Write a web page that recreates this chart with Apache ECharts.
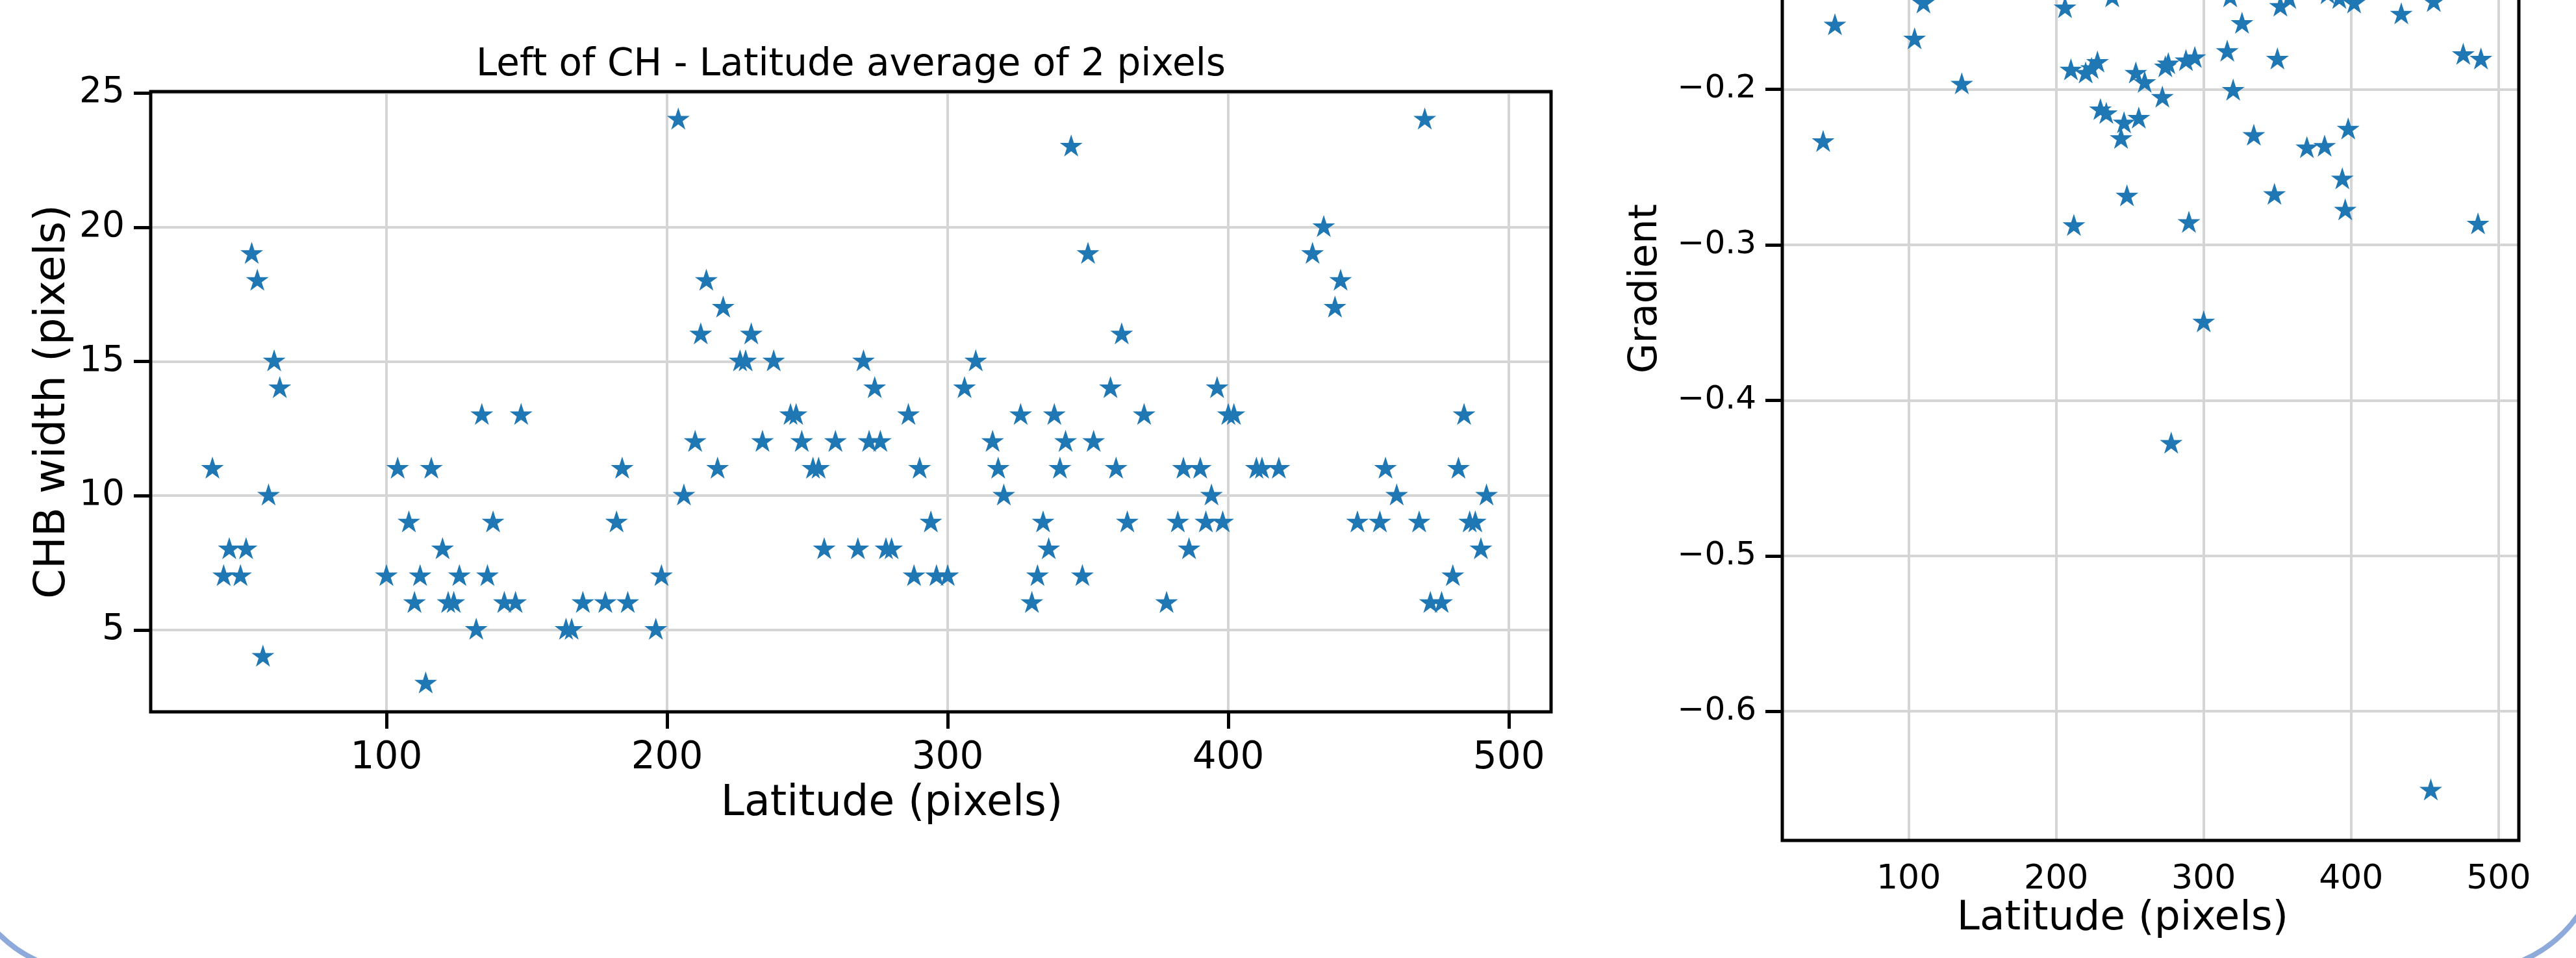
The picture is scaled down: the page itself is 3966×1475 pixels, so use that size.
<!DOCTYPE html>
<html>
<head>
<meta charset="utf-8">
<title>CHB width and gradient vs latitude</title>
<script src="https://cdn.jsdelivr.net/npm/echarts@6/dist/echarts.min.js"></script>
<style>
  html, body { margin: 0; padding: 0; background: #fff; }
  #chart { width: 3966px; height: 1475px; }
</style>
</head>
<body>
<div id="chart"></div>
<script>
// left panel: CHB width against latitude
const chbLat = [38, 42, 44, 48, 50, 52, 54, 56, 58, 60, 62,
  100, 104, 108, 110, 112, 114, 116, 120, 122, 124, 126, 132, 134, 136, 138, 142, 146, 148,
  164, 166, 170, 178, 182, 184, 186, 196, 198,
  204, 206, 210, 212, 214, 218, 220, 226, 228, 230, 234, 238, 244, 246, 248, 252, 254, 256, 260, 268,
  270, 272, 274, 276, 278, 280, 286, 288, 290, 294, 296, 300, 306, 310, 316, 318, 320, 326,
  330, 332, 334, 336, 338, 340, 342, 344, 348, 350, 352, 358, 360, 362, 364, 370, 378, 382, 384, 386,
  390, 392, 394, 396, 398, 400, 402, 410, 412, 418, 430, 434, 438, 440, 446, 454, 456, 460, 468, 470,
  472, 476, 480, 482, 484, 486, 488, 490, 492];
const chbWidth = [11, 7, 8, 7, 8, 19, 18, 4, 10, 15, 14,
  7, 11, 9, 6, 7, 3, 11, 8, 6, 6, 7, 5, 13, 7, 9, 6, 6, 13,
  5, 5, 6, 6, 9, 11, 6, 5, 7,
  24, 10, 12, 16, 18, 11, 17, 15, 15, 16, 12, 15, 13, 13, 12, 11, 11, 8, 12, 8,
  15, 12, 14, 12, 8, 8, 13, 7, 11, 9, 7, 7, 14, 15, 12, 11, 10, 13,
  6, 7, 9, 8, 13, 11, 12, 23, 7, 19, 12, 14, 11, 16, 9, 13, 6, 9, 11, 8,
  11, 9, 10, 14, 9, 13, 13, 11, 11, 11, 19, 20, 17, 18, 9, 9, 11, 10, 9, 24,
  6, 6, 7, 11, 13, 9, 9, 8, 10];

// right panel: gradient against latitude (only the part inside the picture)
const gradLat = [42, 50, 104, 110, 136, 206, 210, 212, 220, 224, 228, 230, 234, 238, 244, 246, 248,
  254, 256, 260, 272, 274, 276, 278, 288, 290, 294, 300, 316, 318, 320, 326, 334, 348, 350, 352,
  358, 370, 382, 384, 392, 394, 396, 398, 402, 434, 454, 456, 476, 486, 488];
const gradVal = [-0.234, -0.159, -0.168, -0.145, -0.197, -0.148, -0.188, -0.288, -0.190, -0.187, -0.183,
  -0.2135, -0.216, -0.141, -0.232, -0.222, -0.269, -0.190, -0.219, -0.196, -0.2055, -0.186, -0.184,
  -0.428, -0.182, -0.286, -0.180, -0.350, -0.176, -0.141, -0.201, -0.158, -0.230, -0.268, -0.181,
  -0.147, -0.142, -0.238, -0.237, -0.139, -0.142, -0.258, -0.278, -0.226, -0.145, -0.152, -0.651,
  -0.144, -0.178, -0.287, -0.181];

const latTicks = [100, 200, 300, 400, 500];
const widthTicks = [5, 10, 15, 20, 25];
const gradTicks = [-0.6, -0.5, -0.4, -0.3, -0.2, -0.1, 0];

const FONT = 'DejaVu Sans';
const BLUE = '#1f77b4';
const GRID_GREY = '#d5d5d5';
const FRAME_BLUE = '#8eaadb';
// matplotlib '*' marker
const STAR = 'path://M0,-1000L224,-309L951,-309L363,118L588,809L0,382L-588,809L-363,118L-951,-309L-224,-309Z';

function minusFmt(v) {
  let s = Math.abs(v).toFixed(1);
  return v < -1e-9 ? '\u2212' + s : s;
}

function valueAxis(opt) {
  return {
    type: 'value',
    gridIndex: opt.grid,
    min: opt.min,
    max: opt.max,
    axisLine: { show: false },
    axisTick: {
      show: true, inside: false, length: 26,
      customValues: opt.ticks,
      lineStyle: { color: '#000', width: 5 },
    },
    axisLabel: {
      customValues: opt.ticks,
      formatter: opt.fmt,
      margin: opt.margin,
      color: '#000',
      fontFamily: FONT,
      fontSize: opt.fontSize,
    },
    splitLine: { show: true, lineStyle: { color: GRID_GREY, width: 4 } },
    name: opt.name,
    nameLocation: 'middle',
    nameGap: opt.nameGap,
    nameMoveOverlap: false,
    nameTextStyle: {
      color: '#000',
      fontFamily: FONT,
      fontSize: opt.nameSize,
      padding: opt.namePad || 0,
    },
  };
}

function starSeries(xi, lat, vals) {
  return {
    type: 'scatter', xAxisIndex: xi, yAxisIndex: xi,
    symbol: STAR, symbolSize: [29, 28], symbolOffset: [0, -1.5],
    itemStyle: { color: BLUE, borderColor: BLUE, borderWidth: 2, opacity: 1 },
    emphasis: { disabled: true },
    data: lat.map((x, i) => [x, vals[i]]),
  };
}

let chart = echarts.init(document.getElementById('chart'));
chart.setOption({
  animation: false,
  backgroundColor: '#fff',
  grid: [
    {
      left: 232, top: 141, width: 2156, height: 955,
      show: true, borderColor: '#000', borderWidth: 5, backgroundColor: 'transparent',
      containLabel: false, outerBoundsMode: 'none', z: 3,
    },
    {
      left: 2744, top: -405, width: 1134, height: 1699,
      show: true, borderColor: '#000', borderWidth: 5, backgroundColor: 'transparent',
      containLabel: false, outerBoundsMode: 'none', z: 3,
    },
  ],
  xAxis: [
    valueAxis({
      grid: 0, min: 16, max: 515, ticks: latTicks, margin: 43, fontSize: 58,
      name: 'Latitude (pixels)', nameGap: 110, nameSize: 65, namePad: [0, 0, 0, 126],
    }),
    valueAxis({
      grid: 1, min: 14.3, max: 513.7, ticks: latTicks, margin: 34, fontSize: 52,
      name: 'Latitude (pixels)', nameGap: 89, nameSize: 63, namePad: [0, 86, 0, 0],
    }),
  ],
  yAxis: [
    valueAxis({
      grid: 0, min: 1.95, max: 25.05, ticks: widthTicks, margin: 40, fontSize: 55,
      name: 'CHB width (pixels)', nameGap: 117, nameSize: 66,
    }),
    valueAxis({
      grid: 1, min: -0.683, max: 0.0265, ticks: gradTicks, margin: 40, fontSize: 50, fmt: minusFmt,
      name: 'Gradient', nameGap: 180, nameSize: 60,
    }),
  ],
  graphic: [
    {
      type: 'arc', silent: true, z: -10,
      shape: { cx: 140, cy: 1297, r: 200, startAngle: Math.PI / 2, endAngle: Math.PI, clockwise: true },
      style: { fill: null, stroke: FRAME_BLUE, lineWidth: 8 },
    },
    {
      type: 'arc', silent: true, z: -10,
      shape: { cx: 3805, cy: 1295, r: 200, startAngle: 0, endAngle: Math.PI / 2, clockwise: true },
      style: { fill: null, stroke: FRAME_BLUE, lineWidth: 8 },
    },
    {
      type: 'text', silent: true, x: 1310, y: 130,
      style: {
        text: 'Left of CH - Latitude average of 2 pixels',
        fontFamily: FONT, fontSize: 58, fill: '#000',
        align: 'center', verticalAlign: 'bottom',
      },
    },
  ],
  series: [
    starSeries(0, chbLat, chbWidth),
    starSeries(1, gradLat, gradVal),
  ],
});
</script>
</body>
</html>
